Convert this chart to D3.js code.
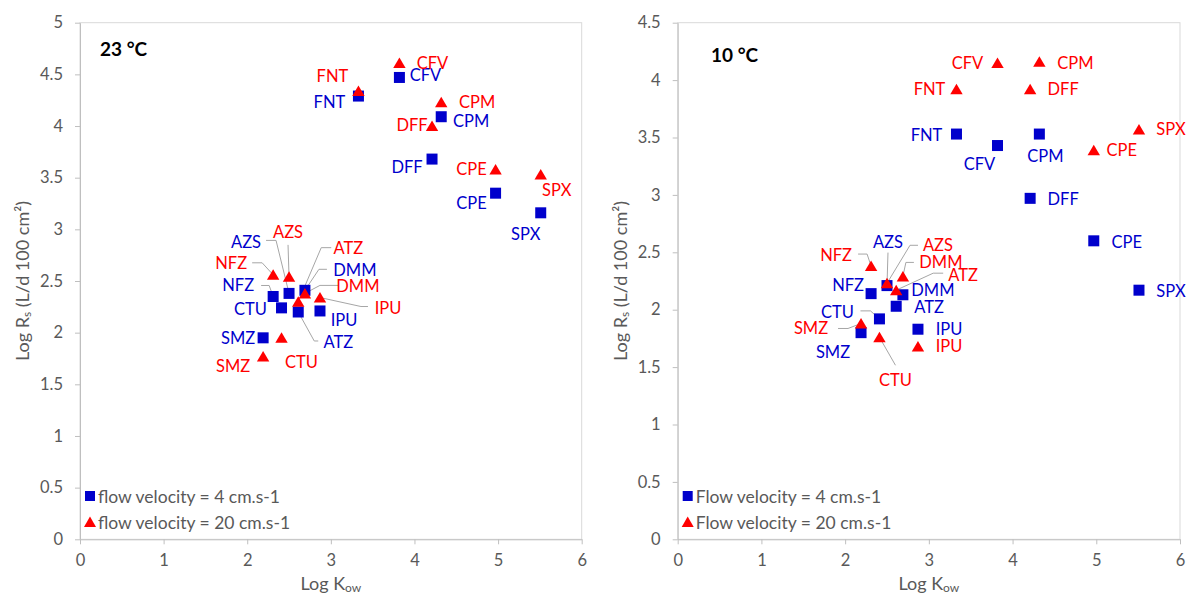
<!DOCTYPE html>
<html lang="en">
<head>
<meta charset="UTF-8">
<title>Log Rs vs Log Kow</title>
<script src="https://d3js.org/d3.v7.min.js"></script>
<style>
  body { margin: 0; background: #fff; }
  svg { display: block; font-family: Lato, "Open Sans", sans-serif; }
  .axis .tick text { fill: #595959; font-size: 16.5px; font-family: Lato, sans-serif; }
  .axis path, .axis line { stroke: #bfbfbf; }
  .frame { fill: none; stroke: #d9d9d9; }
  .leader { fill: none; stroke: #a6a6a6; stroke-width: 1; }
  .lbl { font-size: 16.5px; }
</style>
</head>
<body>
<svg width="1188" height="596"></svg>
<script>
// compounds and their log Kow (same x for both panels)
const compounds = ["FNT", "CFV", "CPM", "DFF", "CPE", "SPX", "NFZ", "AZS", "DMM", "ATZ", "CTU", "SMZ", "IPU"];
const logKow    = [3.33, 3.82, 4.32, 4.21, 4.97, 5.51, 2.31, 2.50, 2.69, 2.61, 2.41, 2.19, 2.87];

// log Rs at 23 °C
const rs23_v4  = [4.29, 4.47, 4.09, 3.68, 3.35, 3.16, 2.35, 2.38, 2.41, 2.20, 2.24, 1.95, 2.21];
const rs23_v20 = [4.34, 4.61, 4.23, 4.00, 3.58, 3.53, 2.56, 2.54, 2.38, 2.30, 1.95, 1.77, 2.34];
// log Rs at 10 °C
const rs10_v4  = [3.53, 3.43, 3.53, 2.97, 2.60, 2.17, 2.14, 2.21, 2.13, 2.03, 1.92, 1.80, 1.83];
const rs10_v20 = [3.92, 4.15, 4.16, 3.92, 3.39, 3.57, 2.38, 2.23, 2.29, 2.17, 1.76, 1.88, 1.68];

const xTicks = [0, 1, 2, 3, 4, 5, 6];
const yTicks23 = [0, 0.5, 1, 1.5, 2, 2.5, 3, 3.5, 4, 4.5, 5];
const yTicks10 = [0, 0.5, 1, 1.5, 2, 2.5, 3, 3.5, 4, 4.5];

const BLUE = "#0000cc", RED = "#ff0000";

// label placement: [dx, dy] of label centre from the marker, in px; leaders are bend points
const place23 = {
  v4: {
    FNT: [-29, 6], CFV: [26, -2], CPM: [30, 4], DFF: [-25, 8], CPE: [-24, 10], SPX: [-15, 21],
    NFZ: [-35, -11], AZS: [-43, -51], DMM: [50, -20], ATZ: [40, 30], CTU: [-31, 1], IPU: [24, 9], SMZ: [-25, 0]
  },
  v20: {
    FNT: [-26, -15], CFV: [33, 0], CPM: [36, 0], DFF: [-20, -1], CPE: [-24, 0], SPX: [16, 15],
    NFZ: [-42, -12], AZS: [-1, -45], ATZ: [50, -54], DMM: [53, -7], IPU: [68, 10], CTU: [20, 24], SMZ: [-30, 10]
  }
};
const leaders23 = {
  v4: {
    NFZ: [[-12, -11], [-4, -11]], AZS: [[-23, -53], [-13, -53]], DMM: [[22, -21], [14, -21]],
    ATZ: [[20, 29], [16, 29]]
  },
  v20: {
    NFZ: [[-21, -12], [-11, -12]], AZS: [[-1, -32]], ATZ: [[33, -54], [23, -54]],
    DMM: [[33, -8], [15, -8]], IPU: [[48, 9], [41, 9]]
  }
};
const place10 = {
  v4: {
    FNT: [-30, 1], CFV: [-18, 18], CPM: [6, 22], DFF: [33, 1], CPE: [33, 1], SPX: [32, 1],
    AZS: [1, -44], NFZ: [-23, -9], DMM: [30, -5], ATZ: [33, 1], CTU: [-42, -7], SMZ: [-28, 19], IPU: [31, 0]
  },
  v20: {
    CFV: [-30, 0], CPM: [36, 1], FNT: [-27, 0], DFF: [33, 0], SPX: [32, 0], CPE: [28, 0],
    NFZ: [-35, -11], AZS: [51, -38], DMM: [38, -14], ATZ: [67, -15], SMZ: [-50, 5], CTU: [16, 43], IPU: [31, 0]
  }
};
const leaders10 = {
  v4: { AZS: [[1, -33]], CTU: [[-19, -8], [-9, -8]] },
  v20: {
    NFZ: [[-13, -12], [-4, -12]], AZS: [[31, -38], [23, -38]], DMM: [[11, -14], [3, -14]],
    ATZ: [[47, -17], [37, -17]], SMZ: [[-23, 5], [-13, 5]], CTU: [[16, 28]]
  }
};

const svg = d3.select("svg");

function panel(cfg) {
  const g = svg.append("g");
  const x = d3.scaleLinear().domain([0, 6]).range([cfg.left, cfg.right]);
  const y = d3.scaleLinear().domain([0, cfg.ymax]).range([cfg.bottom, cfg.top]);

  g.append("rect").attr("class", "frame")
    .attr("x", cfg.left).attr("y", cfg.top)
    .attr("width", cfg.right - cfg.left).attr("height", cfg.bottom - cfg.top);

  g.append("g").attr("class", "axis")
    .attr("transform", `translate(0,${cfg.bottom})`)
    .call(d3.axisBottom(x).tickValues(xTicks).tickFormat(d3.format("d")).tickSize(5).tickSizeOuter(0).tickPadding(10));
  g.append("g").attr("class", "axis")
    .attr("transform", `translate(${cfg.left},0)`)
    .call(d3.axisLeft(y).tickValues(cfg.yTicks).tickFormat(d => String(d)).tickSize(5).tickSizeOuter(0).tickPadding(12));

  const series = [
    { key: "v4", vals: cfg.v4, color: BLUE, shape: "square" },
    { key: "v20", vals: cfg.v20, color: RED, shape: "tri" }
  ];

  // leader lines first
  series.forEach(s => {
    compounds.forEach((c, i) => {
      const pts = cfg.leaders[s.key][c];
      if (!pts) return;
      const px = x(logKow[i]), py = y(s.vals[i]);
      const line = pts.map(p => [px + p[0], py + p[1]]).concat([[px, py]]);
      g.append("path").attr("class", "leader").attr("d", d3.line()(line));
    });
  });

  // markers: blue squares under red triangles
  series.forEach(s => {
    compounds.forEach((c, i) => {
      const px = x(logKow[i]), py = y(s.vals[i]);
      if (s.shape === "square") {
        g.append("rect").attr("x", px - 5.5).attr("y", py - 5.5)
          .attr("width", 11).attr("height", 11).attr("fill", s.color);
      } else {
        g.append("path").attr("d", `M${px},${py - 5.5}L${px + 6.2},${py + 5}L${px - 6.2},${py + 5}Z`)
          .attr("fill", s.color);
      }
    });
  });

  // data labels
  series.forEach(s => {
    compounds.forEach((c, i) => {
      const off = cfg.place[s.key][c];
      g.append("text").attr("class", "lbl")
        .attr("x", x(logKow[i]) + off[0]).attr("y", y(s.vals[i]) + off[1])
        .attr("text-anchor", "middle").attr("dominant-baseline", "central")
        .attr("fill", s.color).text(c);
    });
  });

  // panel title
  g.append("text").attr("x", cfg.titleX).attr("y", cfg.titleY)
    .attr("dominant-baseline", "central")
    .attr("font-weight", "bold").attr("font-size", 19).attr("fill", "#000")
    .text(cfg.title);

  // legend
  const lx = cfg.left + 10;
  g.append("rect").attr("x", lx - 5).attr("y", 491).attr("width", 10).attr("height", 10).attr("fill", BLUE);
  g.append("path").attr("d", `M${lx},${516.5}L${lx + 6},${527}L${lx - 6},${527}Z`).attr("fill", RED);
  g.append("text").attr("x", lx + 8).attr("y", 496).attr("dominant-baseline", "central")
    .attr("font-size", 17.5).attr("fill", "#595959").text(cfg.leg1);
  g.append("text").attr("x", lx + 8).attr("y", 522).attr("dominant-baseline", "central")
    .attr("font-size", 17.5).attr("fill", "#595959").text(cfg.leg2);

  // axis titles
  const xt = g.append("text").attr("x", (cfg.left + cfg.right) / 2).attr("y", 583)
    .attr("text-anchor", "middle").attr("dominant-baseline", "central")
    .attr("font-size", 18).attr("fill", "#595959");
  xt.append("tspan").text("Log K");
  xt.append("tspan").attr("font-size", 12).attr("dy", 4).text("ow");

  const yt = g.append("text")
    .attr("transform", `translate(${cfg.left - 58},${(cfg.top + cfg.bottom) / 2}) rotate(-90)`)
    .attr("text-anchor", "middle").attr("dominant-baseline", "central")
    .attr("font-size", 18).attr("fill", "#595959");
  yt.append("tspan").text("Log R");
  yt.append("tspan").attr("font-size", 12).attr("dy", 4).text("s");
  yt.append("tspan").attr("dy", -4).text(" (L/d 100 cm²)");
}

panel({
  left: 80, right: 581.7, top: 22.7, bottom: 539.3, ymax: 5, yTicks: yTicks23,
  v4: rs23_v4, v20: rs23_v20, place: place23, leaders: leaders23,
  title: "23 °C", titleX: 100, titleY: 48,
  leg1: "flow velocity = 4 cm.s-1", leg2: "flow velocity = 20 cm.s-1"
});
panel({
  left: 677.7, right: 1180, top: 22.7, bottom: 539.3, ymax: 4.5, yTicks: yTicks10,
  v4: rs10_v4, v20: rs10_v20, place: place10, leaders: leaders10,
  title: "10 °C", titleX: 711, titleY: 54,
  leg1: "Flow velocity = 4 cm.s-1", leg2: "Flow velocity = 20 cm.s-1"
});
</script>
</body>
</html>
